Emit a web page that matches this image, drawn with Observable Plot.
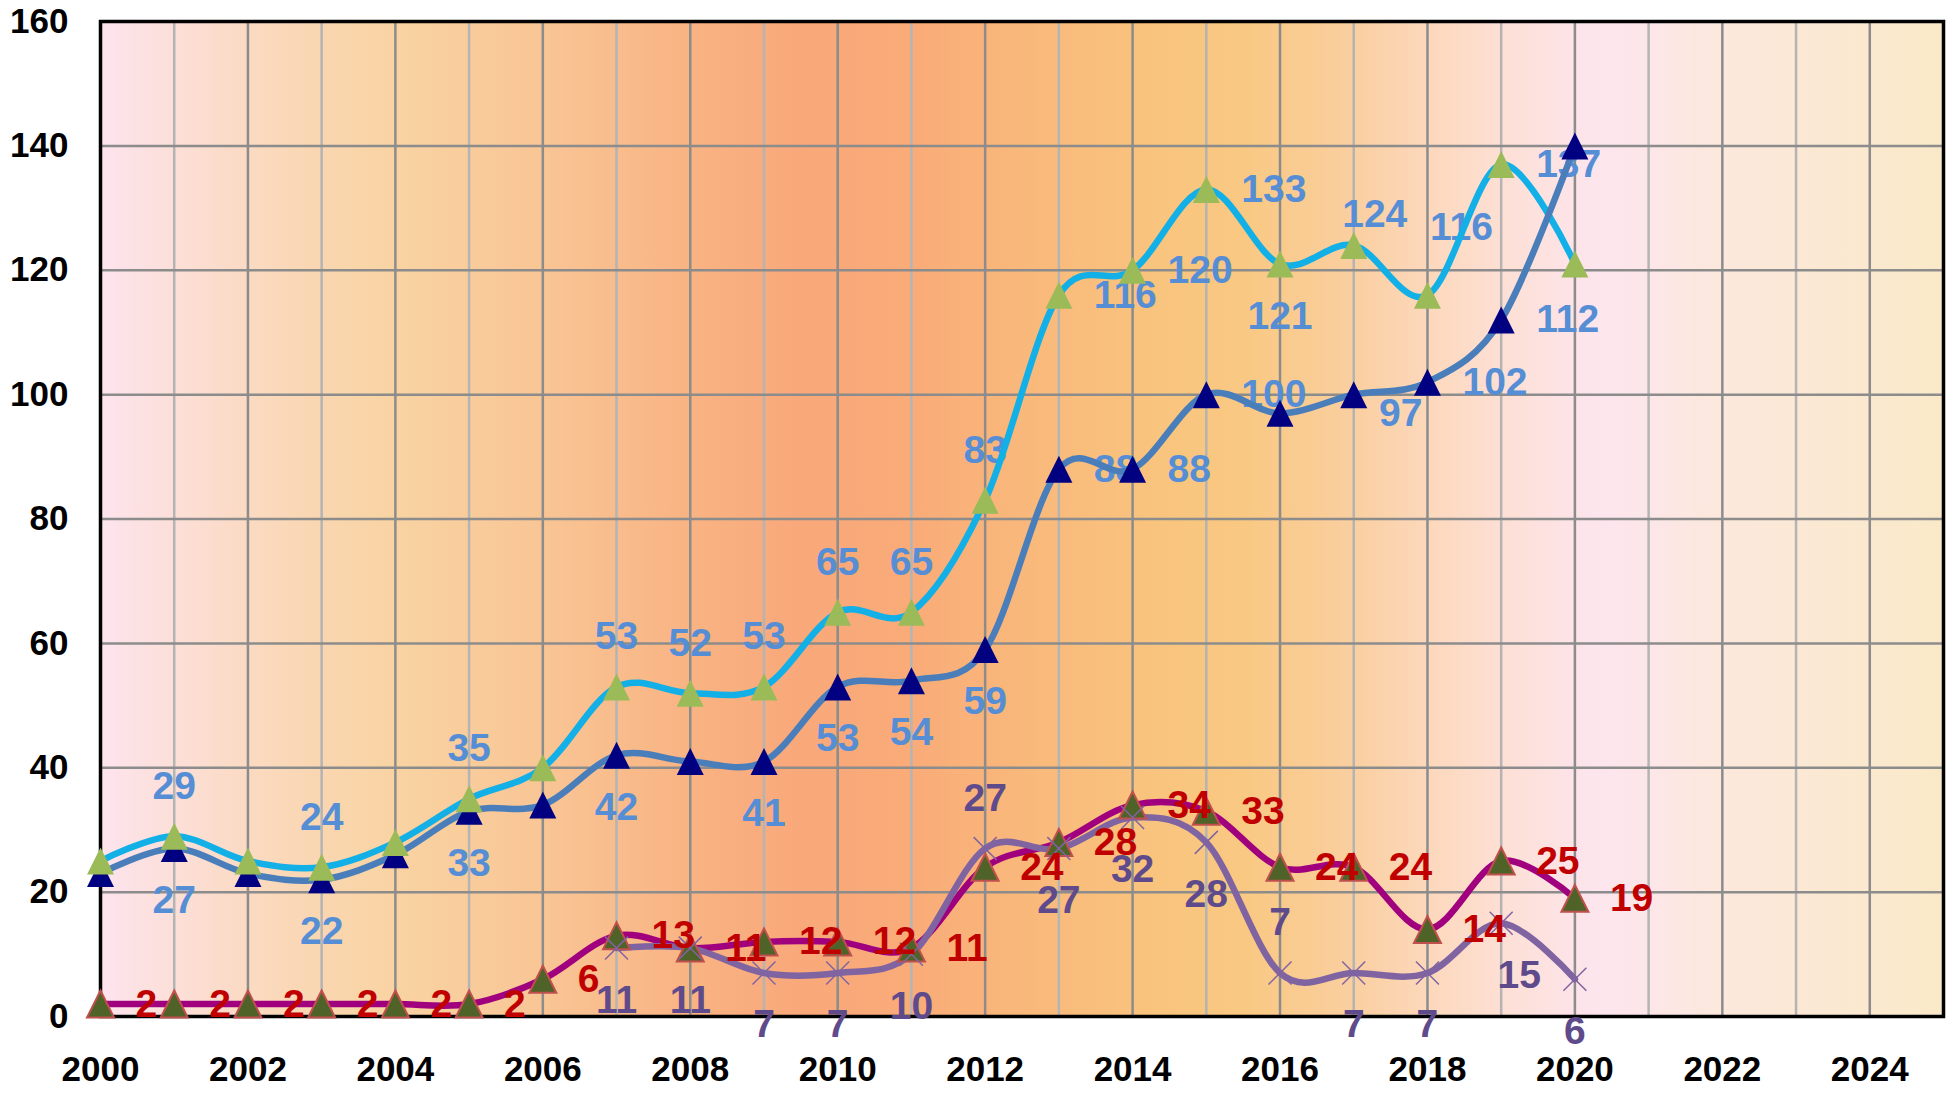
<!DOCTYPE html>
<html><head><meta charset="utf-8">
<script src="https://cdn.jsdelivr.net/npm/d3@7"></script>
<script src="https://cdn.jsdelivr.net/npm/@observablehq/plot@0.6"></script>
<style>html,body{margin:0;padding:0;background:#fff;} #chart svg{display:block}</style>
</head><body><div id="chart"></div>
<script>
// ---- data ----
const years = [2000,2001,2002,2003,2004,2005,2006,2007,2008,2009,2010,2011,2012,2013,2014,2015,2016,2017,2018,2019,2020];
const seriesTop    = [25,29,25,24,28,35,40,53,52,53,65,65,83,116,120,133,121,124,116,137,121];
const seriesMain   = [23,27,23,22,26,33,34,42,41,41,53,54,59,88,88,100,97,100,102,112,140];
const seriesRed    = [2,2,2,2,2,2,6,13,11,12,12,11,24,28,34,33,24,24,14,25,19];
const seriesPurple = [null,null,null,null,null,null,null,11,11,7,7,10,27,27,32,28,7,7,7,15,6];
const xTicks = [2000,2002,2004,2006,2008,2010,2012,2014,2016,2018,2020,2022,2024];
const yTicks = [0,20,40,60,80,100,120,140,160];

// label placement codes (styling)
const posTop    = ["n","a","n","a","n","a","n","a","a","a","a","a","a","r","r","r","b","a1","a2","r","n"];
const posMain   = ["n","b","n","b","n","b","n","b","n","b","b","b","b","r","r","r","r2","n","r","r","n"];
const posRed    = years.map(() => "r");
const posPurple = ["n","n","n","n","n","n","n","b","b","b","b","b","a","b","b","b","a","b","b","b1","b"];

const PLACE = {
  a:  {dx: 0,  dy: -50, textAnchor: "middle"},
  b:  {dx: 0,  dy: 52,  textAnchor: "middle"},
  b1: {dx: 18, dy: 52,  textAnchor: "middle"},
  r:  {dx: 35, dy: 0,   textAnchor: "start"},
  r2: {dx: 99, dy: 0,   textAnchor: "start"},
  a1: {dx: 21, dy: -31, textAnchor: "middle"},
  a2: {dx: 34, dy: -68, textAnchor: "middle"}
};

const rows = (vals, pos) => years.map((y, i) => ({year: y, value: vals[i], pos: pos[i]}));
const top_ = rows(seriesTop, posTop);
const main_ = rows(seriesMain, posMain);
const red_ = rows(seriesRed, posRed);
const purple_ = rows(seriesPurple, posPurple);

const FONT = "'Liberation Sans', Arial, sans-serif";
function labels(data, color) {
  return Object.entries(PLACE).map(([code, p]) =>
    Plot.text(data.filter(d => d.pos === code && d.value != null), {
      x: "year", y: "value", text: d => String(d.value),
      dx: p.dx, dy: p.dy, textAnchor: p.textAnchor,
      fill: color, fontSize: 39, fontWeight: "bold", fontFamily: FONT
    }));
}

// Excel-like triangle marker: width == height
const triSym = {
  draw(ctx, size) {
    const r = Math.sqrt(size / Math.PI) * 1.35;
    ctx.moveTo(0, -r); ctx.lineTo(r, r); ctx.lineTo(-r, r); ctx.closePath();
  }
};

const gridYears = d3.range(2001, 2025);
const bgStops = [
  [2000, "#fde4ee"], [2001, "#fcdfd8"], [2002.5, "#fad8b8"], [2004, "#f9d3a2"],
  [2006, "#f9c595"], [2008, "#f9b383"], [2009.5, "#f9a87a"], [2011, "#f9ab78"],
  [2012.5, "#f9b87b"], [2014.5, "#f9c57e"], [2015.5, "#f9c882"], [2017, "#facfa0"],
  [2018, "#fcd8bb"], [2019, "#fddfd4"], [2020.3, "#fde5ee"], [2021, "#fde6e8"],
  [2022, "#fce8dc"], [2025, "#fae9c8"]
];

const chart = Plot.plot({
  width: 1955, height: 1097,
  marginLeft: 100, marginRight: 12, marginTop: 21, marginBottom: 81,
  style: {fontFamily: FONT, fontWeight: "bold", background: "#fff", color: "#000", overflow: "visible"},
  x: {domain: [2000, 2025]},
  y: {domain: [0, 160]},
  marks: [
    Plot.frame({fill: "url(#bggrad)", stroke: "none"}),
    Plot.ruleX(gridYears.filter(y => y % 2 === 1), {stroke: "#b4b4b4", strokeWidth: 2.5}),
    Plot.ruleX(gridYears.filter(y => y % 2 === 0), {stroke: "#8c8c8c", strokeWidth: 2.5}),
    Plot.ruleY(yTicks.filter(v => v > 0 && v < 160), {stroke: "#8c8c8c", strokeWidth: 2.5}),
    Plot.frame({stroke: "#000", strokeWidth: 3.5}),
    Plot.axisX({ticks: xTicks, tickFormat: d => String(d), tickSize: 0, tickPadding: 40, fontSize: 35, fontWeight: "bold", label: null}),
    Plot.axisY({ticks: yTicks, tickSize: 0, tickPadding: 32, fontSize: 35, fontWeight: "bold", label: null}),
    ...labels(top_, "#558ed5"),
    ...labels(main_, "#558ed5"),
    Plot.line(top_, {x: "year", y: "value", curve: "cardinal", stroke: "#12b0e6", strokeWidth: 6.5}),
    Plot.line(main_, {x: "year", y: "value", curve: "cardinal", stroke: "#4a7ebb", strokeWidth: 6.5}),
    Plot.line(red_, {x: "year", y: "value", curve: "cardinal", stroke: "#a0007e", strokeWidth: 6.5}),
    Plot.line(purple_, {x: "year", y: "value", curve: "cardinal", stroke: "#8064a2", strokeWidth: 6.5}),
    Plot.dot(main_, {x: "year", y: "value", symbol: triSym, r: 10, fill: "#000080", stroke: "none"}),
    Plot.dot(top_, {x: "year", y: "value", symbol: triSym, r: 10, fill: "#9bbb59", stroke: "none"}),
    Plot.dot(red_, {x: "year", y: "value", symbol: triSym, r: 10, fill: "#4f6228", stroke: "#c0504d", strokeWidth: 2}),
    Plot.dot(purple_.filter(d => d.value != null), {x: "year", y: "value", symbol: "times", r: 10.5, stroke: "#8064a2", strokeWidth: 1.5}),
    ...labels(red_, "#c00000"),
    ...labels(purple_, "#5f4b8b")
  ]
});

// horizontal background gradient for the plot area
const svg = d3.select(chart);
const grad = svg.insert("defs", ":first-child").append("linearGradient")
  .attr("id", "bggrad").attr("x1", 0).attr("x2", 1).attr("y1", 0).attr("y2", 0);
bgStops.forEach(([yr, c]) => grad.append("stop").attr("offset", (yr - 2000) / 25).attr("stop-color", c));

document.getElementById("chart").appendChild(chart);
</script>
</body></html>
